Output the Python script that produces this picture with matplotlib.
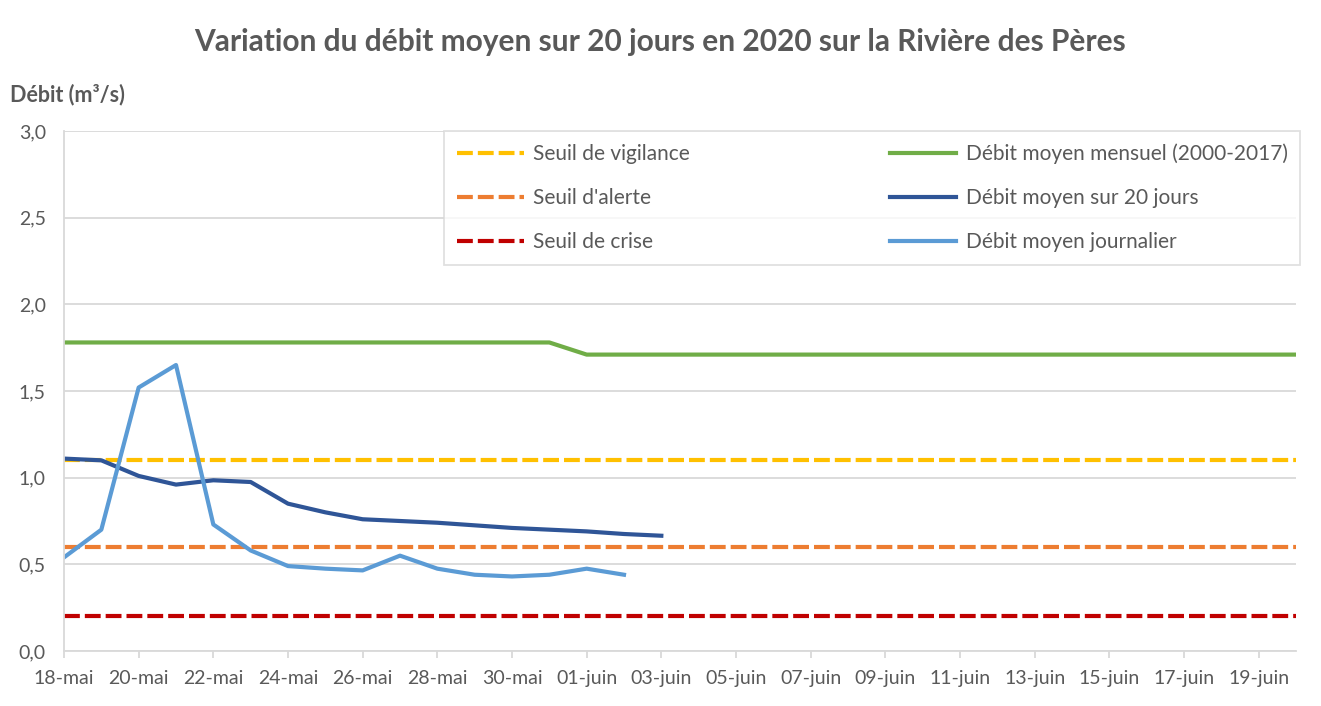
import matplotlib.pyplot as plt
import numpy as np

plt.rcParams['font.family'] = ['Lato', 'DejaVu Sans']

# Données (jours depuis le 18 mai 2020)
jours_tot = np.arange(0, 34)
mensuel = [1.78] * 14 + [1.71] * 20

jours_20 = np.arange(0, 17)
debit_20j = [1.11, 1.10, 1.01, 0.96, 0.985, 0.975, 0.85, 0.80, 0.76, 0.75,
             0.74, 0.725, 0.71, 0.70, 0.69, 0.675, 0.665]

jours_j = np.arange(0, 16)
debit_jour = [0.54, 0.70, 1.52, 1.65, 0.73, 0.58, 0.49, 0.475, 0.465, 0.55,
              0.475, 0.44, 0.43, 0.44, 0.475, 0.44]

seuil_vigilance = 1.1
seuil_alerte = 0.6
seuil_crise = 0.2

tick_pos = np.arange(0, 33, 2)
tick_labels = ['18-mai', '20-mai', '22-mai', '24-mai', '26-mai', '28-mai', '30-mai',
               '01-juin', '03-juin', '05-juin', '07-juin', '09-juin', '11-juin',
               '13-juin', '15-juin', '17-juin', '19-juin']

txt = '#595959'
fig = plt.figure(figsize=(13.21, 7.06), dpi=100)
ax = fig.add_axes([64 / 1321, 1 - 651 / 706, (1296 - 64) / 1321, (651 - 131) / 706])

dash = (3.8, 1.2)
l1, = ax.plot(jours_tot, [seuil_vigilance] * len(jours_tot), color='#FFC000', lw=3, dashes=dash, label='Seuil de vigilance')
l2, = ax.plot(jours_tot, [seuil_alerte] * len(jours_tot), color='#ED7D31', lw=3, dashes=dash, label="Seuil d'alerte")
l3, = ax.plot(jours_tot, [seuil_crise] * len(jours_tot), color='#C00000', lw=3, dashes=dash, label='Seuil de crise')
l4, = ax.plot(jours_tot, mensuel, color='#70AD47', lw=3, label='Débit moyen mensuel (2000-2017)')
l5, = ax.plot(jours_20, debit_20j, color='#2F5597', lw=3, label='Débit moyen sur 20 jours')
l6, = ax.plot(jours_j, debit_jour, color='#5B9BD5', lw=3, label='Débit moyen journalier')

ax.set_xlim(0, 33)
ax.set_ylim(0, 3.0)
ax.set_yticks(np.arange(0, 3.01, 0.5))
ax.set_yticklabels([f'{v:.1f}'.replace('.', ',') for v in np.arange(0, 3.01, 0.5)])
ax.set_xticks(tick_pos)
ax.set_xticklabels(tick_labels)
ax.grid(axis='y', color='#D9D9D9', lw=1.3)
ax.set_axisbelow(True)
for s in ['top', 'right']:
    ax.spines[s].set_visible(False)
ax.spines['left'].set_color('#D9D9D9')
ax.spines['left'].set_linewidth(1.3)
ax.spines['bottom'].set_color('#D9D9D9')
ax.spines['bottom'].set_linewidth(1.3)
ax.tick_params(axis='y', length=0, pad=13, labelsize=14, labelcolor=txt)
ax.tick_params(axis='x', length=5, color='#D9D9D9', width=1.3, pad=9, labelsize=14, labelcolor=txt)

leg = ax.legend(handles=[l1, l2, l3, l4, l5, l6], ncol=2, loc='upper right',
                bbox_to_anchor=(1.0035, 1.0), borderaxespad=0, fontsize=15,
                frameon=True, fancybox=False,
                handlelength=3.2, handletextpad=0.45, columnspacing=9.6,
                labelspacing=1.15, borderpad=0.6, labelcolor=txt)
leg.get_frame().set_edgecolor('#D9D9D9')
leg.get_frame().set_linewidth(1.3)

fig.text(0.5, 1 - 42 / 706, 'Variation du débit moyen sur 20 jours en 2020 sur la Rivière des Pères',
         ha='center', va='center', fontsize=21.5, fontweight='bold', color=txt)
fig.text(10 / 1321, 1 - 95 / 706, 'Débit (m³/s)', ha='left', va='center',
         fontsize=15.5, fontweight='bold', color=txt)

fig.savefig('out.png', dpi=100)
